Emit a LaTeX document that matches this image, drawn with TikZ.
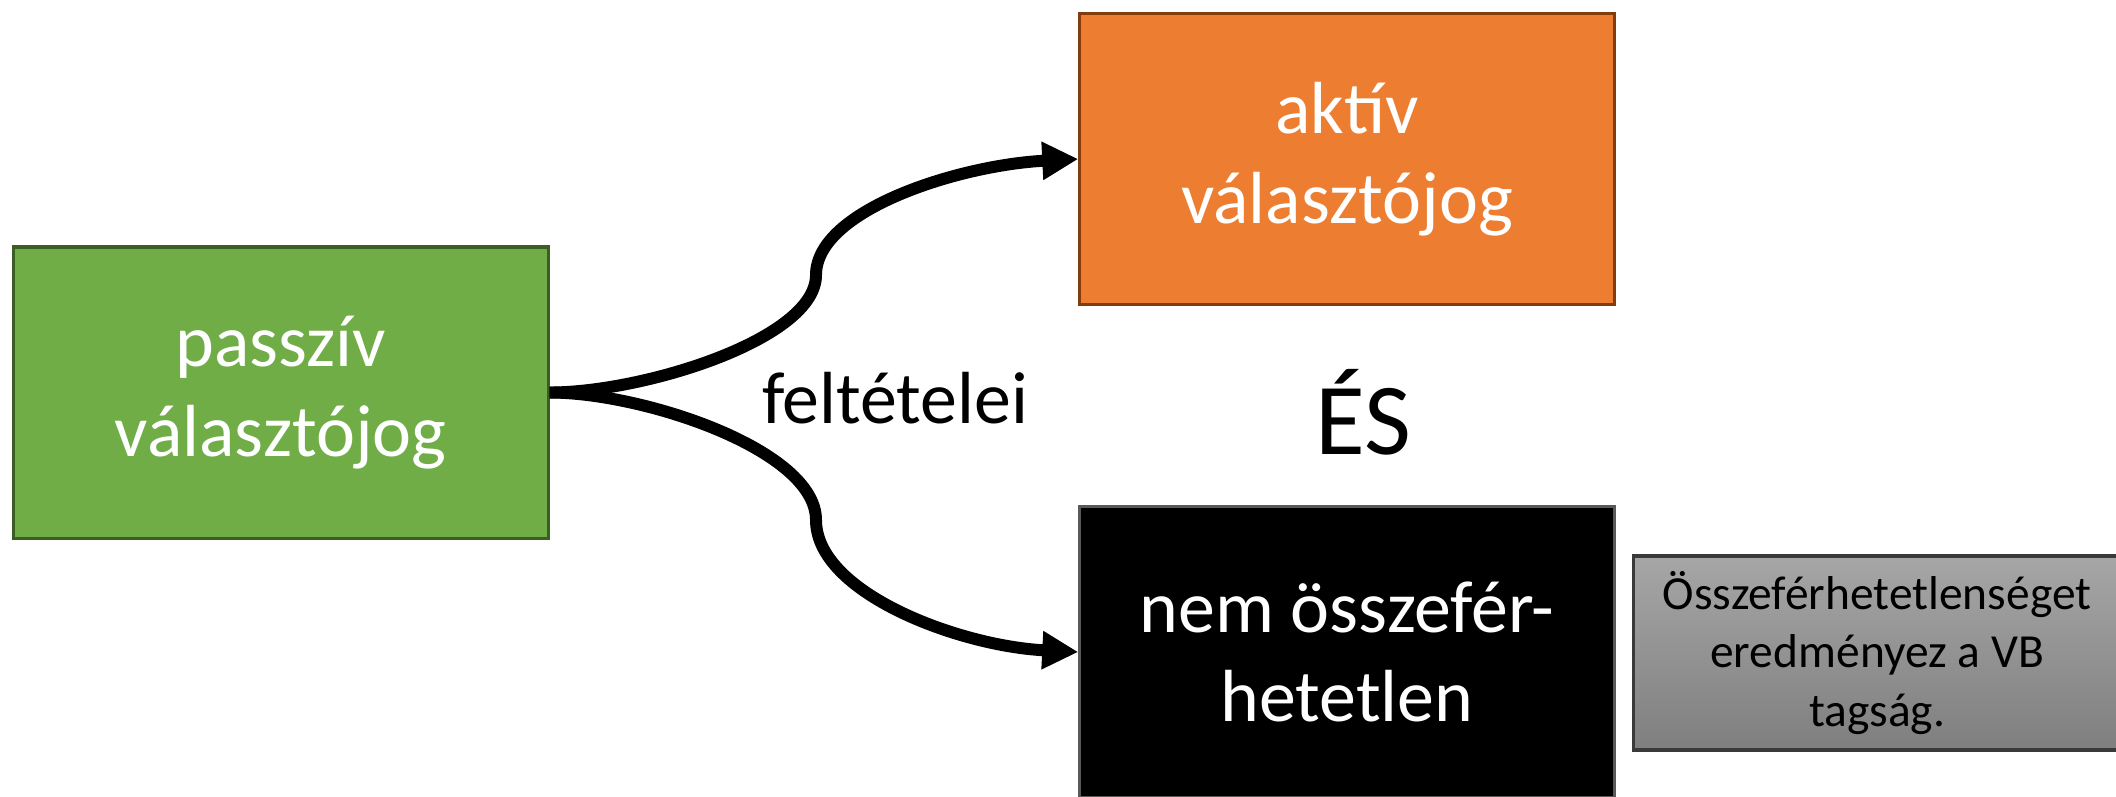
\documentclass[tikz,border=0pt]{standalone}
\usepackage{fontspec}
\setmainfont{Carlito}
\usetikzlibrary{arrows.meta}
\definecolor{pgreen}{HTML}{70AD47}
\definecolor{pgreendark}{HTML}{3B5E25}
\definecolor{porange}{HTML}{ED7D31}
\definecolor{porangedark}{HTML}{843C0C}
\definecolor{graytop}{HTML}{A6A6A6}
\definecolor{graybot}{HTML}{7F7F7F}
\definecolor{grayedge}{HTML}{3A3A3A}
\begin{document}
\begin{tikzpicture}[x=0.01cm,y=-0.01cm,
  box/.style={draw, line width=0.9pt, rectangle, align=center, inner sep=0pt, text=white, font=\fontsize{21}{25.5}\selectfont},
  conn/.style={line width=3.4pt, -{Triangle[length=3.6mm,width=3.6mm]}}]
\useasboundingbox (0,0) rectangle (2116,796);
\node[box, fill=pgreen, draw=pgreendark, minimum width=5.345cm, minimum height=2.91cm] (g) at (280.7,392.5) {passzív\\választójog};
\node[box, fill=porange, draw=porangedark, minimum width=5.34cm, minimum height=2.915cm] (o) at (1347,159) {aktív\\választójog};
\node[box, fill=black, draw=gray!70!black, minimum width=5.34cm, minimum height=2.91cm] (b) at (1347,652) {nem összefér-\\hetetlen};
\node[box, text=black, top color=graytop, bottom color=graybot, draw=grayedge, minimum width=4.86cm, minimum height=1.94cm, font=\fontsize{13.5}{16.5}\selectfont] (gr) at (1877,653) {Összeférhetetlenséget\\eredményez a VB\\tagság.};
\node[font=\fontsize{21}{25}\selectfont] (f) at (895,398) {feltételei};
\node[font=\fontsize{29}{34}\selectfont] (es) at (1363,412) {ÉS};
\coordinate (m1) at (816,275);
\coordinate (m2) at (816,520);
\draw[conn] (g.east) .. controls +(94,0) and +(0,64) .. (m1) .. controls +(0,-65) and +(-119,6) .. (o.west);
\draw[conn] (g.east) .. controls +(94,0) and +(0,-70) .. (m2) .. controls +(0,73) and +(-119,-6) .. (b.west);
\end{tikzpicture}
\end{document}
